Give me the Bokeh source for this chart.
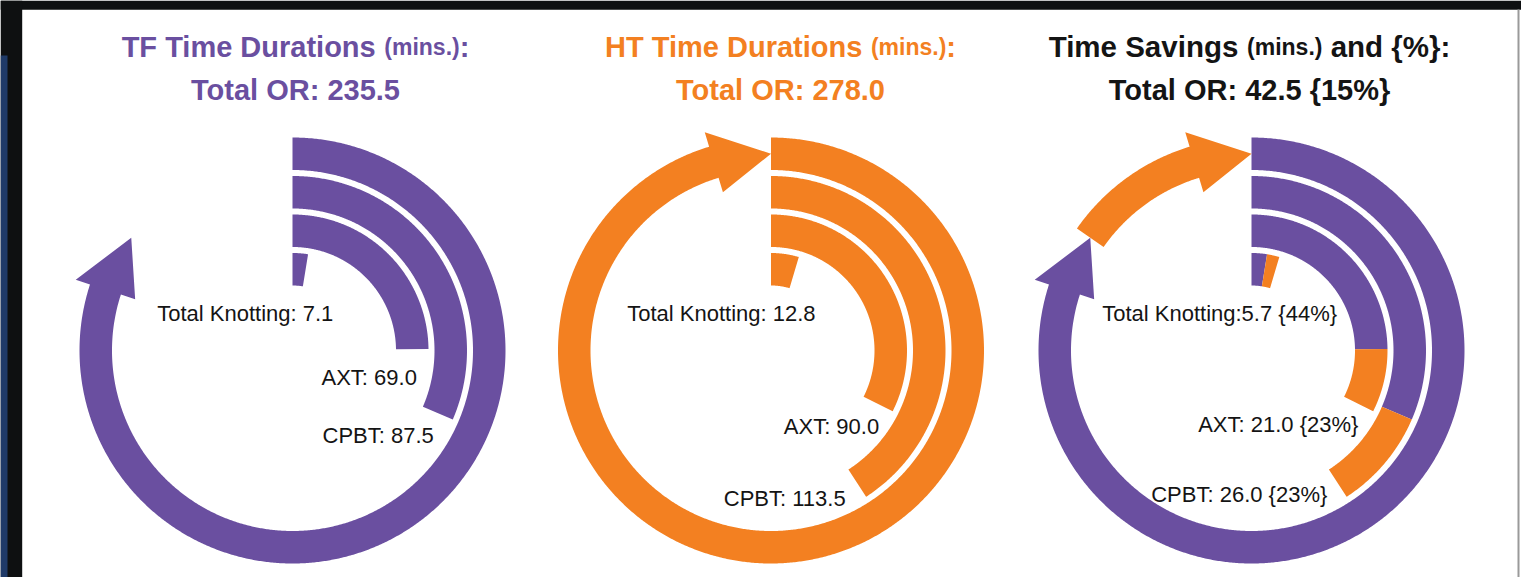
import numpy as np
from bokeh.plotting import figure
from bokeh.models import Range1d, ColumnDataSource
from bokeh.core.properties import value
from bokeh.embed import file_html
from bokeh.resources import INLINE

# ---------------- data ----------------
categories = ["Total Knotting", "AXT", "CPBT", "Total OR"]
tf_minutes = [7.1, 69.0, 87.5, 235.5]
ht_minutes = [12.8, 90.0, 113.5, 278.0]
saving_minutes = [5.7, 21.0, 26.0, 42.5]
saving_pct = [44, 23, 23, 15]

# ---------------- style ----------------
PURPLE = "#6a4fa0"
ORANGE = "#f38021"
BLACK = "#141414"
FONT = "Liberation Sans"

W, H = 1521, 577
p = figure(width=W, height=H, output_backend="svg", toolbar_location=None,
           x_range=Range1d(0, W), y_range=Range1d(H, 0),
           x_axis_location=None, y_axis_location=None, min_border=0)
p.outline_line_color = None
p.grid.visible = False
p.background_fill_color = "white"
p.border_fill_color = "white"

# slide frame remnants (decoration)
p.quad(left=0, right=W, top=0, bottom=9.3, fill_color="#0e1011", line_color=None)
p.quad(left=0, right=21.7, top=0, bottom=H, fill_color="#0e1011", line_color=None)
p.quad(left=0, right=7, top=55, bottom=H, fill_color="#1f3a68", line_color=None)
p.quad(left=1517, right=1519, top=9, bottom=H, fill_color="#9a9a9a", line_color=None)

full = max(ht_minutes)            # 278 min == full circle


def ang(v):
    return v / full * 2 * np.pi


R_OUT = [97.5, 136.0, 174.5, 213.0]   # ring per category (inner -> outer)
R_W = 32.5
HEAD_LEN = 58.0
HEAD_OVER = 15.0


def arc_pts(cx, cy, r, a0, a1):
    n = max(2, int(abs(a1 - a0) / np.radians(0.4)) + 2)
    t = np.linspace(a0, a1, n)
    return list(cx + r * np.sin(t)), list(cy - r * np.cos(t))


def band(cx, cy, r0, r1, a0, a1, arrow=False):
    rm = (r0 + r1) / 2
    ab = a1 - HEAD_LEN / rm if arrow else a1
    ox, oy = arc_pts(cx, cy, r1, a0, ab)
    ix, iy = arc_pts(cx, cy, r0, ab, a0)
    xs, ys = ox[:], oy[:]
    if arrow:
        for r, a in [(r1 + HEAD_OVER, ab), (rm, a1), (r0 - HEAD_OVER, ab)]:
            xs.append(cx + r * np.sin(a))
            ys.append(cy - r * np.cos(a))
    xs += ix
    ys += iy
    return xs, ys


shapes = {"xs": [], "ys": [], "c": []}


def add(xs, ys, c):
    shapes["xs"].append(xs)
    shapes["ys"].append(ys)
    shapes["c"].append(c)


CY = 350.0
CX = [292.0, 770.5, 1251.0]

# chart 1: TF, chart 2: HT
for cx, vals, col in [(CX[0], tf_minutes, PURPLE), (CX[1], ht_minutes, ORANGE)]:
    for i, v in enumerate(vals):
        r1 = R_OUT[i]
        add(*band(cx, CY, r1 - R_W, r1, 0.0, ang(v), arrow=(i == 3)), col)

# chart 3: savings = TF part (purple) + extra HT part (orange)
for i, (a, b) in enumerate(zip(tf_minutes, ht_minutes)):
    r1 = R_OUT[i]
    add(*band(CX[2], CY, r1 - R_W, r1, 0.0, ang(a), arrow=(i == 3)), PURPLE)
    add(*band(CX[2], CY, r1 - R_W, r1, ang(a), ang(b), arrow=(i == 3)), ORANGE)

p.patches(xs="xs", ys="ys", fill_color="c", line_color=None,
          source=ColumnDataSource(shapes))

# ---------------- labels ----------------
tf_labels = [f"{c}: {v:.1f}" for c, v in zip(categories[:3], tf_minutes[:3])]
ht_labels = [f"{c}: {v:.1f}" for c, v in zip(categories[:3], ht_minutes[:3])]
sv_labels = [f"{c}: {v:.1f} {{{q}%}}" for c, v, q in
             zip(categories[:3], saving_minutes[:3], saving_pct[:3])]
sv_labels[0] = sv_labels[0].replace(": ", ":")

label_pos = [
    [(156.7, 313), (321.0, 377), (322.0, 435)],
    [(626.7, 313), (783.3, 426), (723.3, 498)],
    [(1101.7, 313), (1197.7, 424), (1150.7, 494)],
]
lx, ly, lt = [], [], []
for labs, pos in zip([tf_labels, ht_labels, sv_labels], label_pos):
    for t, (x, y) in zip(labs, pos):
        lx.append(x); ly.append(y); lt.append(t)
p.text(x=lx, y=ly, text=lt, text_font=value(FONT), text_font_size=value("22px"),
       text_color=BLACK, text_baseline="alphabetic", text_align="left")

# ---------------- titles ----------------
BW = {" ": 278, "%": 889, "(": 333, ")": 333, ".": 278, ":": 333, "{": 389, "}": 389,
      "D": 722, "F": 611, "H": 722, "O": 778, "R": 722, "S": 667, "T": 611,
      "a": 556, "d": 611, "e": 556, "g": 611, "i": 278, "l": 278, "m": 889, "n": 611,
      "o": 611, "r": 389, "s": 556, "t": 333, "u": 611, "v": 556}


def tw(s, size):
    return sum(BW.get(ch, 556) for ch in s) * size / 1000.0


titles = [
    (295.0, PURPLE, [("TF Time Durations ", 29), ("(mins.)", 23), (":", 29)],
     f"Total OR: {tf_minutes[3]:.1f}"),
    (780.0, ORANGE, [("HT Time Durations ", 29), ("(mins.)", 23), (":", 29)],
     f"Total OR: {ht_minutes[3]:.1f}"),
    (1249.0, BLACK, [("Time Savings ", 29.5), ("(mins.)", 23), (" and {%}:", 29.5)],
     f"Total OR: {saving_minutes[3]:.1f} {{{saving_pct[3]}%}}"),
]
for cx, col, parts, line2 in titles:
    total = sum(tw(s, sz) for s, sz in parts)
    x = cx - total / 2
    for s, sz in parts:
        lead = tw(s[:len(s) - len(s.lstrip())], sz)
        p.text(x=[x + lead], y=[46], text=[s.strip()], text_font=value(FONT),
               text_font_size=value(f"{sz}px"), text_font_style="bold",
               text_color=col, text_baseline="alphabetic", text_align="left")
        x += tw(s, sz)
    p.text(x=[cx], y=[89], text=[line2], text_font=value(FONT),
           text_font_size=value("29px"), text_font_style="bold",
           text_color=col, text_baseline="alphabetic", text_align="center")

open("out.html", "w").write(file_html(p, INLINE))
